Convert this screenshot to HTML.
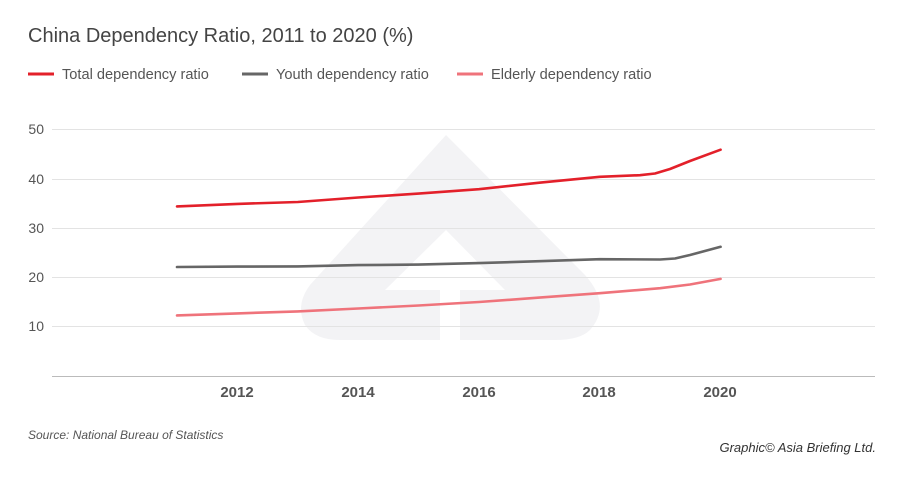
<!DOCTYPE html>
<html><head><meta charset="utf-8"><style>
body{margin:0;background:#fff;width:900px;height:475px;overflow:hidden;font-family:"Liberation Sans",sans-serif}
</style></head><body>
<svg width="900" height="475" xmlns="http://www.w3.org/2000/svg" font-family="Liberation Sans, sans-serif">
<text x="28" y="42" font-size="20" fill="#444">China Dependency Ratio, 2011 to 2020 (%)</text>
<line x1="28" y1="74" x2="54" y2="74" stroke="#e3202a" stroke-width="3"/>
<text x="62" y="79" font-size="14.6" fill="#555">Total dependency ratio</text>
<line x1="242" y1="74" x2="268" y2="74" stroke="#666" stroke-width="3"/>
<text x="276" y="79" font-size="14.6" fill="#555">Youth dependency ratio</text>
<line x1="457" y1="74" x2="483" y2="74" stroke="#ef737b" stroke-width="3"/>
<text x="491" y="79" font-size="14.6" fill="#555">Elderly dependency ratio</text>
<!-- watermark -->
<path d="M446,135 L585,275 Q612,305 590,330 Q580,340 555,340 L340,340 Q315,340 305,325 Q295,305 310,285 Z" fill="#f3f3f5"/>
<path d="M446,230 L505,290 L385,290 Z" fill="#fff"/>
<rect x="440" y="290" width="20" height="52" fill="#fff"/>
<g stroke="#e3e3e3" stroke-width="1">
<line x1="52" y1="129.5" x2="875" y2="129.5"/>
<line x1="52" y1="179.5" x2="875" y2="179.5"/>
<line x1="52" y1="228.5" x2="875" y2="228.5"/>
<line x1="52" y1="277.5" x2="875" y2="277.5"/>
<line x1="52" y1="326.5" x2="875" y2="326.5"/>
</g>
<line x1="52" y1="376.5" x2="875" y2="376.5" stroke="#bbb"/>
<g font-size="14" fill="#555" text-anchor="end">
<text x="44" y="134">50</text><text x="44" y="184">40</text><text x="44" y="233">30</text><text x="44" y="282">20</text><text x="44" y="331">10</text>
</g>
<g font-size="15" font-weight="bold" fill="#555" text-anchor="middle">
<text x="237" y="397">2012</text><text x="358" y="397">2014</text><text x="479" y="397">2016</text><text x="599" y="397">2018</text><text x="720" y="397">2020</text>
</g>
<g fill="none" stroke-width="2.6" stroke-linejoin="round" stroke-linecap="round">
<polyline stroke="#e3202a" points="177,206.4 237.4,203.9 297.8,202 358.2,197.5 418.6,193.6 479,189.2 539.4,182.7 599.8,176.8 640,175.2 655,173.5 670,169 690,161 720.6,149.7"/>
<polyline stroke="#666" points="177,267 237.4,266.6 297.8,266.4 358.2,265.1 418.6,264.6 479,263.1 539.4,261.2 599.8,259.2 660,259.5 675,258.5 690,255 720.6,246.8"/>
<polyline stroke="#ef737b" points="177,315.4 237.4,313.4 297.8,311.4 358.2,308.5 418.6,305.5 479,302 539.4,297.6 599.8,293.2 660.2,288.2 690,284.5 720.6,278.9"/>
</g>
<text x="28" y="439" font-size="12" font-style="italic" fill="#555">Source: National Bureau of Statistics</text>
<text x="876" y="452" font-size="13" font-style="italic" fill="#333" text-anchor="end">Graphic© Asia Briefing Ltd.</text>
</svg>
</body></html>
